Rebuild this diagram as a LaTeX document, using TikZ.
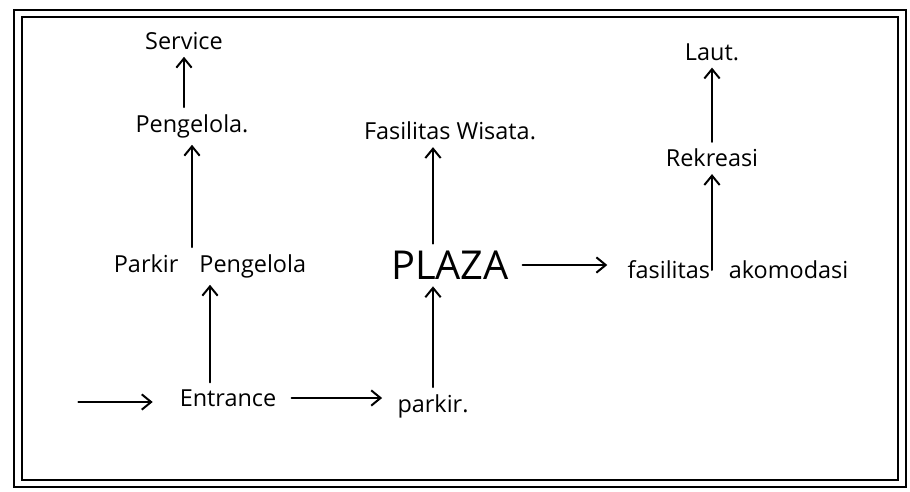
\documentclass[tikz,border=0pt]{standalone}
\usepackage{fontspec}
\setmainfont{Open Sans}
\usetikzlibrary{arrows.meta}

\begin{document}
\begin{tikzpicture}[
  x=0.3mm, y=0.3mm,
  lbl/.style={font=\fontsize{20}{24}\selectfont, inner sep=3pt},
  big/.style={font=\fontsize{34}{40}\selectfont, inner sep=3pt},
  ar/.style={-{Straight Barb[length=2.8mm,width=4.6mm,line width=1.7pt]},
             line width=1.7pt, line cap=round, shorten <=1mm, shorten >=1mm},
  frame/.style={line width=2.2pt}
]
\useasboundingbox (0,0) rectangle (910,-491);
% double frame
\draw[frame] (14,-10) rectangle (906,-487);
\draw[frame] (22,-17) rectangle (898,-480);

\node[lbl] (srv)  at (184,-41)  {Service};
\node[lbl] (pen)  at (192,-126) {Pengelola.};
\node[lbl] (pp)   at (210,-266) {Parkir\hspace{0.9em}Pengelola};
\node[lbl] (ent)  at (228,-398) {Entrance};
\node[lbl] (prk)  at (433,-406) {parkir.};
\node[big] (plz)  at (450,-265) {PLAZA};
\node[lbl] (fw)   at (450,-131) {Fasilitas Wisata.};
\node[lbl] (fak)  at (738,-270) {fasilitas\hspace{0.8em}akomodasi};
\node[lbl] (rek)  at (712,-158) {Rekreasi};
\node[lbl] (laut) at (712,-52)  {Laut.};
\coordinate (in) at (75,-402);

\draw[ar, shorten >=7mm] (in) -- (in -| ent.west);
\draw[ar, shorten <=3.5mm, shorten >=3.5mm] (ent.east) -- (ent.east -| prk.west);
\draw[ar] (pp |- ent.north) -- (pp.south);
\draw[ar] (pen |- pp.north) -- (pen.south);
\draw[ar] (srv |- pen.north) -- (srv.south);
\draw[ar] (prk.north) -- (prk |- plz.south);
\draw[ar] (prk |- plz.north) -- (prk |- fw.south);
\draw[ar, shorten <=3mm, shorten >=5mm] (plz.east) -- (plz.east -| fak.west);
\draw[ar, shorten <=0mm] (rek |- fak.center) -- (rek.south);
\draw[ar] (rek.north) -- (laut.south);
\end{tikzpicture}
\end{document}
